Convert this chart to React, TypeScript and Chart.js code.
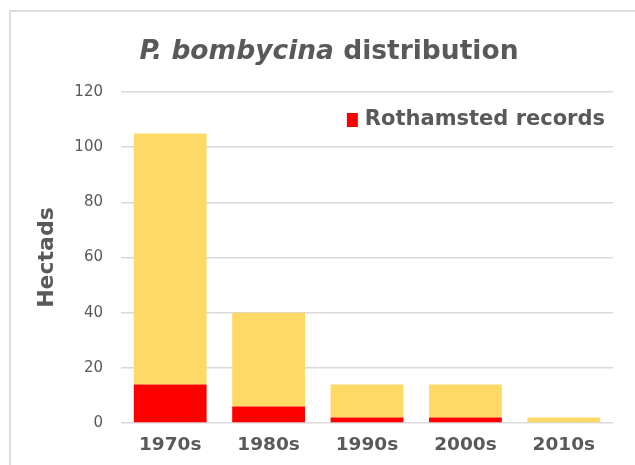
import React, { useEffect, useRef } from 'react';
import { Chart, registerables } from 'chart.js';

Chart.register(...registerables);

const categories = ['1970s', '1980s', '1990s', '2000s', '2010s'];
const rothamstedRecords = [14, 6, 2, 2, 0];
const otherRecords = [91, 34, 12, 12, 2];
const yMax = 120;
const yStep = 20;
const titleItalic = 'P. bombycina';
const titleRest = 'distribution';
const legendLabel = 'Rothamsted records';
const otherLabel = 'Other records';
const axisTitle = 'Hectads';

const FONT = '"DejaVu Sans", "Liberation Sans", Arial, sans-serif';
const TEXT = '#595959';

const framePlugin = {
  id: 'frame',
  beforeDraw(chart: any) {
    const ctx = chart.ctx;
    ctx.save();
    ctx.fillStyle = '#dcdcdc';
    ctx.fillRect(9, 10, chart.width, 2);
    ctx.fillRect(9, 10, 2, chart.height);
    ctx.restore();
  },
};

const titlePlugin = {
  id: 'splitTitle',
  afterDraw(chart: any) {
    const ctx = chart.ctx;
    ctx.save();
    const f1 = `italic bold 26.5px ${FONT}`;
    const f2 = `bold 26.5px ${FONT}`;
    ctx.font = f1;
    const w1 = ctx.measureText(titleItalic + ' ').width;
    ctx.font = f2;
    const w2 = ctx.measureText(titleRest).width;
    const cx = 329;
    let x = cx - (w1 + w2) / 2;
    const y = 59;
    ctx.fillStyle = TEXT;
    ctx.textBaseline = 'alphabetic';
    ctx.textAlign = 'left';
    ctx.font = f1;
    ctx.fillText(titleItalic, x, y);
    x += w1;
    ctx.font = f2;
    ctx.fillText(titleRest, x, y);
    ctx.restore();
  },
};

// Legend inside the plot area (top-right), showing only the Rothamsted series
const insideLegendPlugin = {
  id: 'insideLegend',
  afterDatasetsDraw(chart: any) {
    const ds = chart.data.datasets[0];
    const area = chart.chartArea;
    const ctx = chart.ctx;
    ctx.save();
    ctx.font = `bold 21px ${FONT}`;
    const tw = ctx.measureText(ds.label).width;
    const right = area.right - 8;
    const cy = area.top + 28;
    const textX = right - tw;
    const boxW = 11;
    const boxH = 14;
    ctx.fillStyle = ds.backgroundColor;
    ctx.fillRect(textX - 7 - boxW, cy - boxH / 2, boxW, boxH);
    ctx.fillStyle = TEXT;
    ctx.textBaseline = 'middle';
    ctx.textAlign = 'left';
    ctx.fillText(ds.label, textX, cy);
    ctx.restore();
  },
};

export default function App() {
  const ref = useRef<HTMLCanvasElement | null>(null);

  useEffect(() => {
    if (!ref.current) return;
    const chart = new Chart(ref.current, {
      type: 'bar',
      data: {
        labels: categories,
        datasets: [
          {
            label: legendLabel,
            data: rothamstedRecords,
            backgroundColor: '#FF0000',
            borderWidth: 0,
            categoryPercentage: 1,
            barPercentage: 0.74,
          },
          {
            label: otherLabel,
            data: otherRecords,
            backgroundColor: '#FFD966',
            borderWidth: 0,
            categoryPercentage: 1,
            barPercentage: 0.74,
          },
        ],
      },
      options: {
        responsive: false,
        animation: false,
        devicePixelRatio: 1,
        layout: { padding: { left: 30, right: 22, top: 92, bottom: 0 } },
        plugins: {
          title: { display: false },
          tooltip: { enabled: false },
          legend: { display: false },
        },
        scales: {
          x: {
            stacked: true,
            grid: { display: false, drawTicks: false },
            border: { display: false },
            ticks: {
              color: TEXT,
              padding: 11,
              font: { family: FONT, size: 18.5, weight: 'bold' },
            },
            afterFit: (s: any) => {
              s.height = 42;
            },
          },
          y: {
            stacked: true,
            min: 0,
            max: yMax,
            grid: { color: '#d9d9d9', lineWidth: 1.5, drawTicks: false },
            border: { display: false },
            ticks: {
              stepSize: yStep,
              padding: 18,
              color: TEXT,
              font: { family: FONT, size: 15 },
            },
            title: {
              display: true,
              text: axisTitle,
              color: TEXT,
              padding: { top: 4, bottom: 0 },
              font: { family: FONT, size: 22, weight: 'bold' },
            },
            afterFit: (s: any) => {
              s.width = 91;
            },
          },
        },
      },
      plugins: [framePlugin, titlePlugin, insideLegendPlugin],
    } as any);
    return () => chart.destroy();
  }, []);

  return (
    <div style={{ position: 'fixed', left: 0, top: 0, width: 635, height: 465, background: '#fff' }}>
      <canvas ref={ref} width={635} height={465} style={{ display: 'block' }} />
    </div>
  );
}
